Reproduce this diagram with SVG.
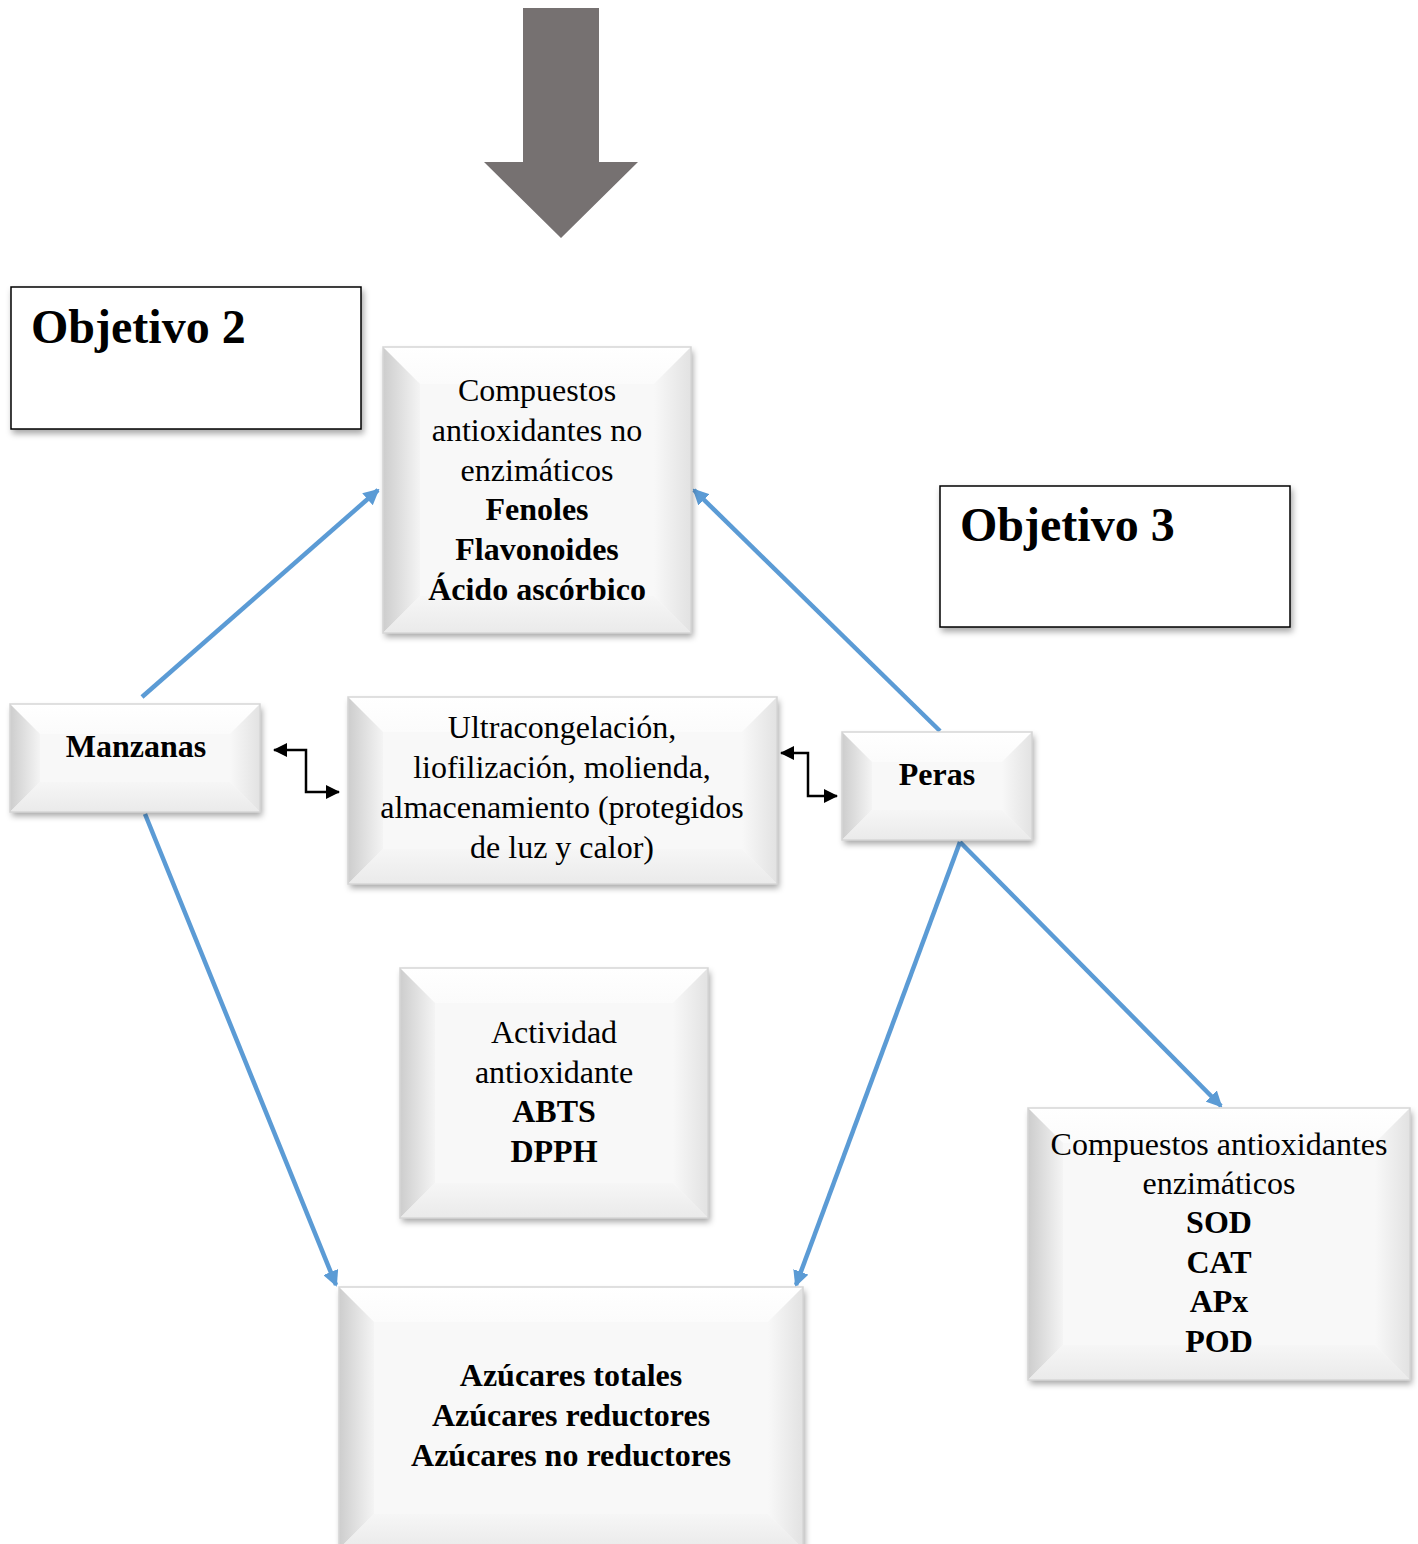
<svg xmlns="http://www.w3.org/2000/svg" width="1418" height="1544" viewBox="0 0 1418 1544">
<defs>
<style>
.t{font-family:"Liberation Serif","Times New Roman",serif;font-size:32px;fill:#000;text-anchor:middle}
.b{font-weight:bold}
.obj{font-family:"Liberation Serif","Times New Roman",serif;font-size:48px;font-weight:bold;fill:#000}
.blue{stroke:#5B9BD5;stroke-width:4.5;fill:none;marker-end:url(#ab)}
.blk{stroke:#000;stroke-width:2.5;fill:none;marker-start:url(#ak);marker-end:url(#ak)}
.top{fill:url(#gTop)}.left{fill:url(#gLeft)}.bot{fill:url(#gBot)}.right{fill:url(#gRight)}
.mid{fill:#f8f8f8}
.edge{fill:none;stroke:#d6d6d6;stroke-width:1.5}
.sh{fill:#f8f8f8;filter:url(#ds)}
</style>
<filter id="ds" x="-10%" y="-10%" width="120%" height="125%"><feDropShadow dx="2" dy="4" stdDeviation="3" flood-color="#000" flood-opacity="0.35"/></filter>
<linearGradient id="gTop" x1="0" y1="0" x2="0" y2="1"><stop offset="0" stop-color="#ffffff"/><stop offset="1" stop-color="#fbfbfb"/></linearGradient>
<linearGradient id="gLeft" x1="0" y1="0" x2="1" y2="0"><stop offset="0" stop-color="#cdcdcd"/><stop offset="1" stop-color="#f4f4f4"/></linearGradient>
<linearGradient id="gBot" x1="0" y1="0" x2="0" y2="1"><stop offset="0" stop-color="#f6f6f6"/><stop offset="1" stop-color="#eaeaea"/></linearGradient>
<linearGradient id="gRight" x1="0" y1="0" x2="1" y2="0"><stop offset="0" stop-color="#f8f8f8"/><stop offset="1" stop-color="#e2e2e2"/></linearGradient>
<marker id="ab" markerUnits="userSpaceOnUse" markerWidth="16" markerHeight="16" refX="14" refY="8" orient="auto"><path d="M0,0 L16,8 L0,16 z" fill="#5B9BD5"/></marker>
<marker id="ak" markerUnits="userSpaceOnUse" markerWidth="14" markerHeight="14" refX="13" refY="7" orient="auto-start-reverse"><path d="M0,0 L14,7 L0,14 z" fill="#000"/></marker>
</defs>
<rect width="1418" height="1544" fill="#fff"/>

<g id="big-arrow">
<polygon points="523,8 599,8 599,162 638,162 561,238 484,162 523,162" fill="#767171"/>
</g>

<g id="objetivo2">
<rect x="11" y="287" width="350" height="142" fill="#fff" stroke="#000" stroke-width="1.5" filter="url(#ds)"/>
<text class="obj" x="31" y="343">Objetivo 2</text>
</g>

<g id="objetivo3">
<rect x="940" y="486" width="350" height="141" fill="#fff" stroke="#000" stroke-width="1.5" filter="url(#ds)"/>
<text class="obj" x="960" y="541">Objetivo 3</text>
</g>

<g id="connectors">
<path class="blue" d="M142,697 L378,490"/>
<path class="blue" d="M940,731 L694,490"/>
<path class="blue" d="M145,814 L336,1285"/>
<path class="blue" d="M960,842 L796,1285"/>
<path class="blue" d="M960,842 L1221,1106"/>
<path class="blk" d="M274,750 L306,750 L306,792 L339,792"/>
<path class="blk" d="M781,753 L808,753 L808,796 L837,796"/>
</g>

<g id="no-enzimaticos">
<rect class="sh" x="383" y="347" width="308" height="286"/>
<polygon class="top" points="383,347 691,347 654,384 420,384"/>
<polygon class="left" points="383,347 420,384 420,596 383,633"/>
<polygon class="bot" points="383,633 420,596 654,596 691,633"/>
<polygon class="right" points="691,347 691,633 654,596 654,384"/>
<rect class="mid" x="420" y="384" width="234" height="212"/>
<rect class="edge" x="383" y="347" width="308" height="286"/>
<text class="t" x="537" y="401">Compuestos</text>
<text class="t" x="537" y="441">antioxidantes no</text>
<text class="t" x="537" y="481">enzimáticos</text>
<text class="t b" x="537" y="520">Fenoles</text>
<text class="t b" x="537" y="560">Flavonoides</text>
<text class="t b" x="537" y="600">Ácido ascórbico</text>
</g>

<g id="manzanas">
<rect class="sh" x="10" y="704" width="250" height="108"/>
<polygon class="top" points="10,704 260,704 230,734 40,734"/>
<polygon class="left" points="10,704 40,734 40,782 10,812"/>
<polygon class="bot" points="10,812 40,782 230,782 260,812"/>
<polygon class="right" points="260,704 260,812 230,782 230,734"/>
<rect class="mid" x="40" y="734" width="190" height="48"/>
<rect class="edge" x="10" y="704" width="250" height="108"/>
<text class="t b" x="136" y="757">Manzanas</text>
</g>

<g id="procesamiento">
<rect class="sh" x="348" y="697" width="429" height="187"/>
<polygon class="top" points="348,697 777,697 742,732 383,732"/>
<polygon class="left" points="348,697 383,732 383,849 348,884"/>
<polygon class="bot" points="348,884 383,849 742,849 777,884"/>
<polygon class="right" points="777,697 777,884 742,849 742,732"/>
<rect class="mid" x="383" y="732" width="359" height="117"/>
<rect class="edge" x="348" y="697" width="429" height="187"/>
<text class="t" x="562" y="738">Ultracongelación,</text>
<text class="t" x="562" y="778">liofilización, molienda,</text>
<text class="t" x="562" y="818">almacenamiento (protegidos</text>
<text class="t" x="562" y="858">de luz y calor)</text>
</g>

<g id="peras">
<rect class="sh" x="842" y="732" width="190" height="108"/>
<polygon class="top" points="842,732 1032,732 1002,762 872,762"/>
<polygon class="left" points="842,732 872,762 872,810 842,840"/>
<polygon class="bot" points="842,840 872,810 1002,810 1032,840"/>
<polygon class="right" points="1032,732 1032,840 1002,810 1002,762"/>
<rect class="mid" x="872" y="762" width="130" height="48"/>
<rect class="edge" x="842" y="732" width="190" height="108"/>
<text class="t b" x="937" y="785">Peras</text>
</g>

<g id="actividad">
<rect class="sh" x="400" y="968" width="308" height="250"/>
<polygon class="top" points="400,968 708,968 673,1003 435,1003"/>
<polygon class="left" points="400,968 435,1003 435,1183 400,1218"/>
<polygon class="bot" points="400,1218 435,1183 673,1183 708,1218"/>
<polygon class="right" points="708,968 708,1218 673,1183 673,1003"/>
<rect class="mid" x="435" y="1003" width="238" height="180"/>
<rect class="edge" x="400" y="968" width="308" height="250"/>
<text class="t" x="554" y="1043">Actividad</text>
<text class="t" x="554" y="1083">antioxidante</text>
<text class="t b" x="554" y="1122">ABTS</text>
<text class="t b" x="554" y="1162">DPPH</text>
</g>

<g id="azucares">
<rect class="sh" x="339" y="1287" width="464" height="262"/>
<polygon class="top" points="339,1287 803,1287 768,1322 374,1322"/>
<polygon class="left" points="339,1287 374,1322 374,1514 339,1549"/>
<polygon class="bot" points="339,1549 374,1514 768,1514 803,1549"/>
<polygon class="right" points="803,1287 803,1549 768,1514 768,1322"/>
<rect class="mid" x="374" y="1322" width="394" height="192"/>
<rect class="edge" x="339" y="1287" width="464" height="262"/>
<text class="t b" x="571" y="1386">Azúcares totales</text>
<text class="t b" x="571" y="1426">Azúcares reductores</text>
<text class="t b" x="571" y="1466">Azúcares no reductores</text>
</g>

<g id="enzimaticos">
<rect class="sh" x="1028" y="1108" width="382" height="272"/>
<polygon class="top" points="1028,1108 1410,1108 1375,1143 1063,1143"/>
<polygon class="left" points="1028,1108 1063,1143 1063,1345 1028,1380"/>
<polygon class="bot" points="1028,1380 1063,1345 1375,1345 1410,1380"/>
<polygon class="right" points="1410,1108 1410,1380 1375,1345 1375,1143"/>
<rect class="mid" x="1063" y="1143" width="312" height="202"/>
<rect class="edge" x="1028" y="1108" width="382" height="272"/>
<text class="t" x="1219" y="1155">Compuestos antioxidantes</text>
<text class="t" x="1219" y="1194">enzimáticos</text>
<text class="t b" x="1219" y="1233">SOD</text>
<text class="t b" x="1219" y="1273">CAT</text>
<text class="t b" x="1219" y="1312">APx</text>
<text class="t b" x="1219" y="1352">POD</text>
</g>
</svg>
